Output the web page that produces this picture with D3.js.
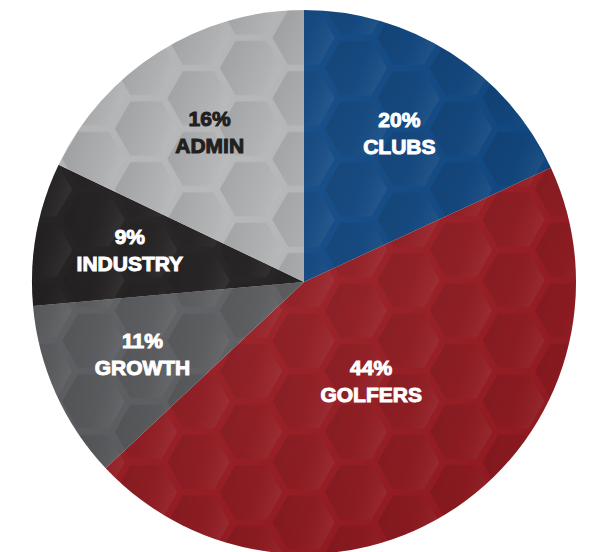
<!DOCTYPE html>
<html>
<head>
<meta charset="utf-8">
<script src="https://cdn.jsdelivr.net/npm/d3@7"></script>
<style>
  body { margin: 0; background: #fff; }
  .lbl { font-family: "Liberation Sans", Arial, sans-serif; font-weight: bold; font-size: 21px; }
</style>
</head>
<body>
<div id="chart"></div>
<script>
var names = ["CLUBS", "GOLFERS", "GROWTH", "INDUSTRY", "ADMIN"];
var labels = ["20%", "44%", "11%", "9%", "16%"];
// slice sizes as they are drawn in the picture
var shares = [18.1, 44.9, 10.6, 8.5, 17.9];
var colors = ["#0d4784", "#9b1b22", "#5c5d60", "#1e1b1c", "#b4b5b7"];
var textColors = ["#ffffff", "#ffffff", "#ffffff", "#ffffff", "#231f20"];

var width = 593, height = 552;
var cx = 304, cy = 282, radius = 272;

var svg = d3.select("#chart").append("svg")
  .attr("width", width)
  .attr("height", height);

var defs = svg.append("defs");

// shading inside each hexagon
var grad = defs.append("linearGradient").attr("id", "hexShade")
  .attr("x1", 0).attr("y1", 0.35).attr("x2", 1).attr("y2", 0.65);
grad.append("stop").attr("offset", 0).attr("stop-color", "#000").attr("stop-opacity", 0.12);
grad.append("stop").attr("offset", 0.55).attr("stop-color", "#000").attr("stop-opacity", 0.05);
grad.append("stop").attr("offset", 1).attr("stop-color", "#fff").attr("stop-opacity", 0.07);

// flat topped hexagon grid
var R = 35, h = Math.sqrt(3) * R, hr = R * 0.89;
function hexPath(x, y) {
  var pts = d3.range(6).map(function (k) {
    var a = Math.PI / 3 * k;
    return [x + hr * Math.cos(a), y + hr * Math.sin(a)];
  });
  return "M" + pts.join("L") + "Z";
}
// pattern lives in the pie group's coordinates, so shift it back
var pat = defs.append("pattern").attr("id", "hex")
  .attr("patternUnits", "userSpaceOnUse")
  .attr("x", 251 - cx).attr("y", 68 - cy)
  .attr("width", 3 * R).attr("height", h);
[[0, 0], [3 * R, 0], [0, h], [3 * R, h], [1.5 * R, h / 2]].forEach(function (c) {
  pat.append("path").attr("d", hexPath(c[0], c[1])).attr("fill", "url(#hexShade)");
});

// soft light across the whole ball
var glow = defs.append("radialGradient").attr("id", "glow")
  .attr("cx", 0.35).attr("cy", 0.3).attr("r", 0.8);
glow.append("stop").attr("offset", 0).attr("stop-color", "#fff").attr("stop-opacity", 0.06);
glow.append("stop").attr("offset", 1).attr("stop-color", "#000").attr("stop-opacity", 0.08);

var data = names.map(function (n, i) {
  return { name: n, label: labels[i], value: shares[i], color: colors[i], text: textColors[i] };
});

var pie = d3.pie().sort(null).value(function (d) { return d.value; });
var arc = d3.arc().innerRadius(0).outerRadius(radius);

var g = svg.append("g").attr("transform", "translate(" + cx + "," + cy + ")");
var arcs = pie(data);

var slices = g.selectAll(".slice").data(arcs).enter().append("g").attr("class", "slice");
slices.append("path").attr("d", arc).attr("fill", function (d) { return d.data.color; });
slices.append("path").attr("d", arc).attr("fill", "url(#hex)");

g.append("circle").attr("r", radius).attr("fill", "url(#glow)");

function labelRadius(d) {
  return d.data.value > 40 ? 120 : 177;
}

var lab = g.selectAll(".lab").data(arcs).enter().append("g")
  .attr("class", "lab")
  .attr("transform", function (d) {
    var r = labelRadius(d);
    var a = (d.startAngle + d.endAngle) / 2;
    return "translate(" + (r * Math.sin(a)) + "," + (-r * Math.cos(a)) + ")";
  });

lab.append("text").attr("class", "lbl")
  .attr("text-anchor", "middle").attr("y", -6)
  .attr("fill", function (d) { return d.data.text; })
  .attr("stroke", function (d) { return d.data.text; }).attr("stroke-width", 1)
  .text(function (d) { return d.data.label; });

lab.append("text").attr("class", "lbl")
  .attr("text-anchor", "middle").attr("y", 21)
  .attr("fill", function (d) { return d.data.text; })
  .attr("stroke", function (d) { return d.data.text; }).attr("stroke-width", 1)
  .text(function (d) { return d.data.name; });
</script>
</body>
</html>
